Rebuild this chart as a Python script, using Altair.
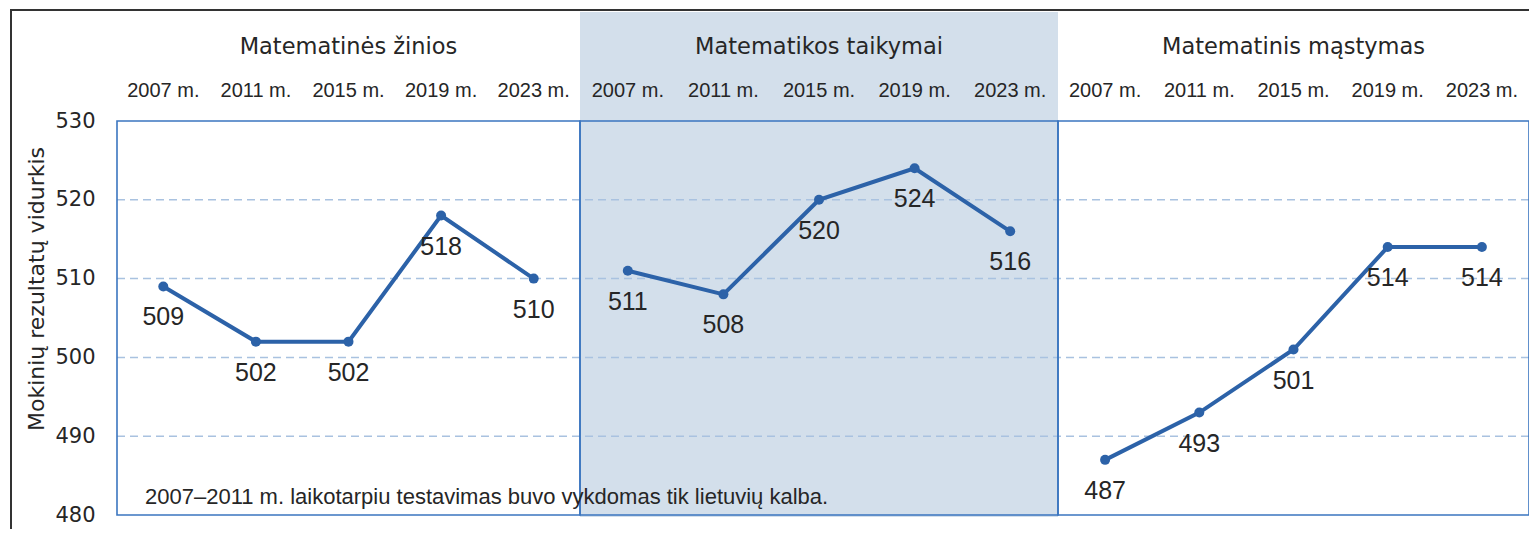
import altair as alt
import pandas as pd

# ---- data ----
domains = ["Matematinės žinios", "Matematikos taikymai", "Matematinis mąstymas"]
years = ["2007 m.", "2011 m.", "2015 m.", "2019 m.", "2023 m."]
zinios = [509, 502, 502, 518, 510]
taikymai = [511, 508, 520, 524, 516]
mastymas = [487, 493, 501, 514, 514]
y_ticks = [480, 490, 500, 510, 520, 530]
grid_vals = [490, 500, 510, 520]
y_title = "Mokinių rezultatų vidurkis"
note = "2007–2011 m. laikotarpiu testavimas buvo vykdomas tik lietuvių kalba."

series = [zinios, taikymai, mastymas]
rows = []
for p, (name, vals) in enumerate(zip(domains, series)):
    for i, (yr, v) in enumerate(zip(years, vals)):
        rows.append({"domain": name, "year": yr, "value": v, "slot": p * 5 + i + 0.5})
df = pd.DataFrame(rows)

panels = pd.DataFrame({
    "domain": domains,
    "x0": [0, 5, 10],
    "x1": [5, 10, 15],
    "xc": [2.5, 7.5, 12.5],
})
grid = pd.DataFrame({"y": grid_vals})

W, H = 1412, 394
FONT = "Liberation Sans"
WIDE = "DejaVu Sans"
TXT = "#262626"
BLUE = "#2c62a8"

# piecewise x scale: three panels of slightly different widths
xs = alt.Scale(domain=[0, 5, 10, 15], range=[0, 463, 941, W], nice=False, zero=False)
ys = alt.Scale(domain=[480, 530], nice=False, zero=False)

base = alt.Chart(df)

fill = alt.Chart(panels[panels["x0"] == 5]).mark_rect(color="#d3dfeb").encode(
    x=alt.X("x0:Q", scale=xs, axis=None),
    x2="x1:Q",
    y=alt.value(-109),
    y2=alt.value(396),
)

gridlines = alt.Chart(grid).mark_rule(
    color="#a9c2e0", strokeWidth=1.5, strokeDash=[8, 5]
).encode(
    y=alt.Y("y:Q", scale=ys),
    x=alt.value(0),
    x2=alt.value(W),
)

borders = alt.Chart(panels).mark_rect(
    fillOpacity=0, stroke="#3b76c0", strokeWidth=1.6
).encode(
    x=alt.X("x0:Q", scale=xs, axis=None),
    x2="x1:Q",
    y=alt.value(0),
    y2=alt.value(H),
)

line = base.mark_line(color=BLUE, strokeWidth=4).encode(
    x=alt.X("slot:Q", scale=xs, axis=None),
    y=alt.Y(
        "value:Q",
        scale=ys,
        axis=alt.Axis(
            values=y_ticks, title=None, domain=False, ticks=False, grid=False,
            labelFontSize=21, labelFont=WIDE, labelColor=TXT, labelPadding=22,
        ),
    ),
    detail="domain:N",
)

points = base.mark_circle(color=BLUE, size=100, opacity=1).encode(
    x=alt.X("slot:Q", scale=xs),
    y=alt.Y("value:Q", scale=ys),
)

labels = base.mark_text(
    dy=31, fontSize=25, font=FONT, color=TXT, baseline="middle", align="center"
).encode(
    x=alt.X("slot:Q", scale=xs),
    y=alt.Y("value:Q", scale=ys),
    text="value:Q",
)

year_labels = base.mark_text(
    fontSize=20, font=FONT, color=TXT, baseline="middle", align="center"
).encode(
    x=alt.X("slot:Q", scale=xs),
    y=alt.value(-30),
    text="year:N",
)

titles = alt.Chart(panels).mark_text(
    fontSize=22.5, font=WIDE, color=TXT, baseline="middle", align="center"
).encode(
    x=alt.X("xc:Q", scale=xs),
    y=alt.value(-74),
    text="domain:N",
)

note_text = alt.Chart(pd.DataFrame({"t": [note]})).mark_text(
    fontSize=22, font=FONT, color=TXT, baseline="middle", align="left"
).encode(
    x=alt.value(28),
    y=alt.value(376),
    text="t:N",
)

ytitle = alt.Chart(pd.DataFrame({"t": [y_title]})).mark_text(
    fontSize=22, font=WIDE, color=TXT, baseline="middle", align="center", angle=270
).encode(
    x=alt.value(-80),
    y=alt.value(168),
    text="t:N",
)

frame_top = alt.Chart(pd.DataFrame({"a": [0]})).mark_rule(
    color="#333333", strokeWidth=2
).encode(
    x=alt.value(-107), x2=alt.value(1420), y=alt.value(-111),
)
frame_left = alt.Chart(pd.DataFrame({"a": [0]})).mark_rule(
    color="#333333", strokeWidth=2
).encode(
    x=alt.value(-106), y=alt.value(-111), y2=alt.value(420),
)

chart = alt.layer(
    fill, gridlines, borders, line, points, labels, year_labels, titles,
    note_text, ytitle, frame_top, frame_left,
).properties(
    width=W,
    height=H,
    autosize=alt.AutoSizeParams(type="none"),
    padding={"left": 109, "top": 113, "right": 0, "bottom": 14},
).configure_view(stroke=None)

chart.save("out.html", embed_options={"renderer": "svg", "actions": False})
